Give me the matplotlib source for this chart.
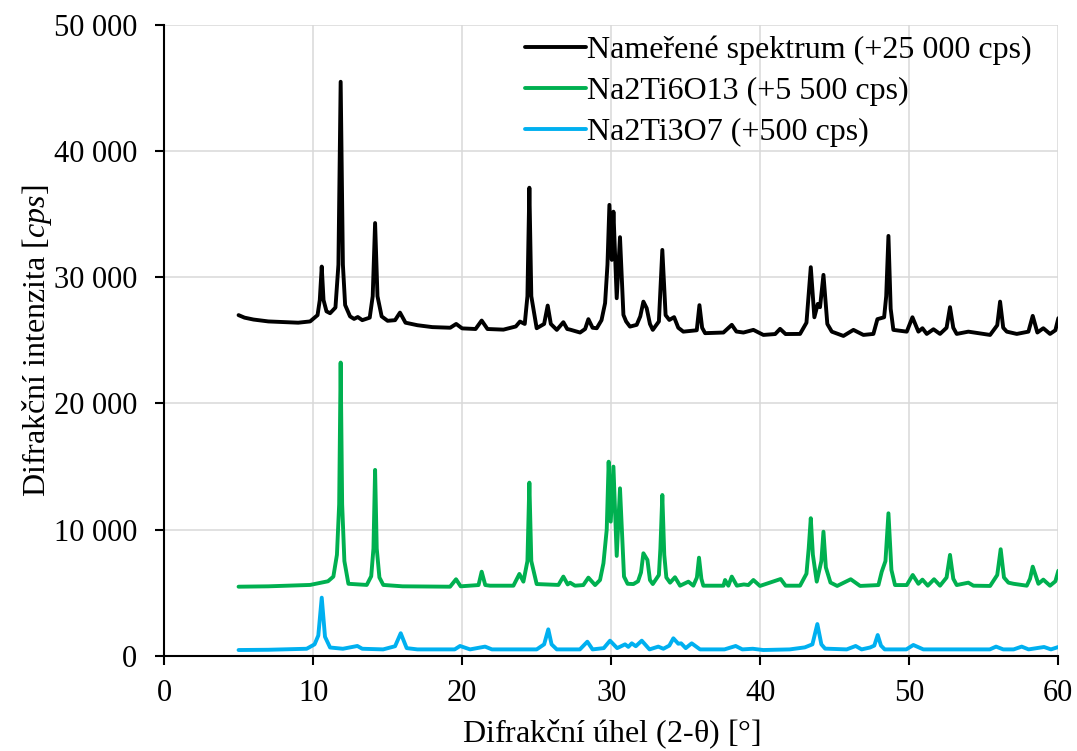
import matplotlib
matplotlib.use("Agg")
import matplotlib.pyplot as plt
from matplotlib.ticker import FuncFormatter, MultipleLocator

plt.rcParams['font.family'] = ['Liberation Serif', 'DejaVu Serif']
plt.rcParams['mathtext.fontset'] = 'custom'
plt.rcParams['mathtext.rm'] = 'Liberation Serif'
plt.rcParams['mathtext.it'] = 'Liberation Serif:italic'

meas_x = [5.0, 5.4, 6.0, 7.0, 8.0, 9.0, 9.8, 10.3, 10.45, 10.58, 10.7, 10.9, 11.14, 11.5, 11.7, 11.85,
          12.0, 12.15, 12.48, 12.75, 13.0, 13.3, 13.8, 14.0, 14.16, 14.32, 14.6, 15.0, 15.5, 15.83,
          16.2, 17.0, 18.0, 19.2, 19.6, 20.0, 20.9, 21.31, 21.7, 22.77, 23.6, 23.88, 24.2, 24.38,
          24.51, 24.64, 25.0, 25.5, 25.74, 25.95, 26.35, 26.79, 27.05, 27.24, 27.91, 28.25, 28.47,
          28.75, 29.03, 29.35, 29.59, 29.75, 29.88, 30.04, 30.15, 30.37, 30.59, 30.82, 31.0, 31.26,
          31.71, 31.95, 32.16, 32.38, 32.6, 32.79, 33.2, 33.43, 33.65, 33.9, 34.22, 34.5, 34.84,
          35.74, 35.92, 36.1, 36.3, 37.53, 38.09, 38.4, 38.87, 39.54, 40.21, 41.0, 41.33, 41.7,
          42.67, 43.1, 43.39, 43.63, 43.86, 44.01, 44.24, 44.5, 44.8, 45.58, 46.25, 46.92, 47.59,
          47.86, 48.31, 48.45, 48.6, 48.75, 48.93, 49.83, 50.21, 50.61, 50.88, 51.17, 51.62, 52.06,
          52.5, 52.73, 52.95, 53.18, 53.96, 55.42, 55.9, 56.09, 56.3, 56.54, 57.21, 57.99, 58.28,
          58.59, 58.99, 59.44, 59.8, 60.0]
meas_y = [27.0, 26.8, 26.65, 26.5, 26.45, 26.4, 26.5, 27.0, 28.2, 30.85, 28.2, 27.3, 27.15, 27.6, 31.0, 45.5,
          31.0, 27.8, 26.9, 26.7, 26.85, 26.6, 26.8, 28.5, 34.3, 28.5, 26.9, 26.55, 26.6, 27.2,
          26.4, 26.2, 26.05, 26.0, 26.3, 25.95, 25.9, 26.57, 25.9, 25.85, 26.1, 26.49, 26.3, 28.5,
          37.1, 28.5, 25.96, 26.3, 27.76, 26.3, 25.83, 26.44, 25.9, 25.85, 25.62, 25.9, 26.68,
          26.0, 25.96, 26.6, 27.95, 31.0, 35.74, 31.38, 35.2, 28.34, 33.18, 27.02, 26.5, 26.09,
          26.23, 26.9, 28.07, 27.55, 26.3, 25.83, 26.5, 32.17, 27.0, 26.62, 26.84, 26.0, 25.69,
          25.8, 27.79, 26.0, 25.57, 25.62, 26.23, 25.7, 25.62, 25.83, 25.43, 25.5, 25.91, 25.5,
          25.51, 26.4, 30.8, 26.83, 27.89, 27.63, 30.19, 26.3, 25.69, 25.35, 25.83, 25.43, 25.51,
          26.68, 26.83, 28.5, 33.28, 27.5, 25.83, 25.69, 26.83, 25.69, 25.96, 25.51, 25.88, 25.51,
          26.0, 27.63, 26.0, 25.51, 25.69, 25.43, 26.2, 28.07, 26.0, 25.69, 25.51, 25.69, 26.94,
          25.62, 25.96, 25.51, 25.8, 26.76]

# Na2Ti6O13 reference (+5 500 cps)
nto_x = [5.0, 7.0, 9.8, 11.0, 11.36, 11.6, 11.75, 11.85, 11.95, 12.1, 12.37, 13.6, 13.9, 14.05, 14.16,
         14.27, 14.45, 14.71, 16.0, 19.19, 19.59, 19.9, 20.53, 21.1, 21.31, 21.55, 21.87, 23.44,
         23.84, 24.11, 24.38, 24.51, 24.64, 25.0, 26.46, 26.79, 27.08, 27.24, 27.57, 28.13, 28.47,
         28.92, 29.25, 29.48, 29.7, 29.83, 29.97, 30.15, 30.37, 30.59, 30.86, 31.1, 31.49, 31.8,
         32.0, 32.16, 32.43, 32.6, 32.79, 33.2, 33.3, 33.43, 33.56, 33.7, 33.95, 34.28, 34.62,
         35.18, 35.51, 35.75, 35.89, 36.05, 36.18, 37.53, 37.64, 37.86, 38.09, 38.43, 38.9, 39.2,
         39.54, 39.98, 41.37, 41.7, 42.67, 43.1, 43.25, 43.39, 43.53, 43.79, 44.1, 44.24, 44.4,
         44.71, 45.16, 46.07, 46.7, 47.93, 48.15, 48.4, 48.6, 48.8, 49.04, 49.83, 50.23, 50.61,
         50.88, 51.24, 51.66, 52.06, 52.5, 52.73, 52.95, 53.18, 53.96, 54.3, 55.42, 55.9, 56.13,
         56.35, 56.65, 57.0, 57.88, 58.1, 58.28, 58.66, 58.99, 59.44, 59.8, 60.0]
nto_y = [5.47, 5.5, 5.61, 5.9, 6.27, 8.0, 12.0, 23.24, 12.0, 7.5, 5.7, 5.61, 6.3, 8.5, 14.73,
         8.5, 6.2, 5.61, 5.5, 5.47, 6.06, 5.5, 5.55, 5.6, 6.66, 5.6, 5.55, 5.55,
         6.48, 5.87, 7.5, 13.72, 7.5, 5.68, 5.61, 6.27, 5.65, 5.79, 5.55, 5.6, 6.19,
         5.6, 6.0, 7.33, 10.0, 15.38, 10.63, 14.99, 7.91, 13.27, 6.27, 5.7, 5.68, 5.9,
         6.6, 8.12, 7.59, 6.0, 5.68, 6.4, 8.5, 12.74, 8.0, 6.2, 5.79, 6.22, 5.55,
         5.87, 5.55, 6.2, 7.77, 6.1, 5.55, 5.55, 6.0, 5.55, 6.27, 5.55, 5.65, 5.6,
         6.0, 5.53, 6.08, 5.55, 5.55, 6.5, 8.5, 10.9, 8.0, 5.87, 7.5, 9.83, 7.0,
         5.8, 5.53, 6.06, 5.53, 5.6, 6.66, 7.5, 11.29, 6.8, 5.6, 5.6, 6.4, 5.7,
         6.03, 5.55, 6.06, 5.55, 6.2, 7.99, 6.1, 5.6, 5.79, 5.55, 5.53, 6.4, 8.44,
         6.2, 5.79, 5.7, 5.55, 6.1, 7.06, 5.7, 6.03, 5.55, 5.9, 6.74]

# Na2Ti3O7 reference (+500 cps)
nt3_x = [5.0, 7.0, 9.57, 10.1, 10.35, 10.58, 10.8, 11.14, 12.0, 12.97, 13.3, 14.7, 15.5, 15.88, 16.28,
         17.0, 19.5, 19.86, 20.53, 21.54, 22.0, 25.0, 25.5, 25.78, 26.0, 26.35, 27.9, 28.4, 28.75,
         29.5, 29.92, 30.4, 30.93, 31.15, 31.38, 31.65, 32.05, 32.57, 33.16, 33.5, 33.9, 34.17,
         34.5, 34.69, 35.0, 35.4, 35.96, 37.6, 38.35, 38.8, 39.5, 40.2, 41.98, 42.99, 43.5, 43.83,
         44.1, 44.35, 45.8, 46.4, 46.8, 47.37, 47.65, 47.88, 48.1, 48.35, 49.8, 50.27, 50.94, 55.4,
         55.82, 56.3, 57.0, 57.54, 58.0, 59.04, 59.5, 60.0]
nt3_y = [0.45, 0.47, 0.55, 0.9, 1.6, 4.6, 1.5, 0.65, 0.55, 0.77, 0.55, 0.5, 0.75, 1.78, 0.6,
         0.5, 0.5, 0.77, 0.5, 0.72, 0.5, 0.5, 0.9, 2.09, 0.9, 0.5, 0.5, 1.11, 0.5,
         0.6, 1.19, 0.6, 0.9, 0.7, 0.98, 0.75, 1.19, 0.5, 0.72, 0.55, 0.8, 1.38,
         0.95, 0.98, 0.6, 0.98, 0.5, 0.5, 0.77, 0.5, 0.55, 0.45, 0.5, 0.66, 0.9, 2.51,
         0.9, 0.56, 0.5, 0.77, 0.5, 0.65, 0.8, 1.64, 0.8, 0.5, 0.5, 0.85, 0.5, 0.5,
         0.72, 0.5, 0.5, 0.72, 0.5, 0.69, 0.5, 0.69]

labels = ['Nameřené spektrum (+25 000 cps)', 'Na2Ti6O13 (+5 500 cps)', 'Na2Ti3O7 (+500 cps)']
colors = ['#000000', '#00B050', '#00B0F0']

fig = plt.figure(figsize=(10.77, 7.51), dpi=100)
ax = fig.add_axes([0.1523, 0.1269, 0.8304, 0.8398])

for xs, ys, lab, col in zip([meas_x, nto_x, nt3_x], [meas_y, nto_y, nt3_y], labels, colors):
    ax.plot(xs, [v * 1000 for v in ys], color=col, lw=2.8, label=lab,
            solid_joinstyle='round', solid_capstyle='round')

ax.set_xlim(0, 60)
ax.set_ylim(0, 50000)
ax.xaxis.set_major_locator(MultipleLocator(10))
ax.yaxis.set_major_locator(MultipleLocator(10000))
ax.yaxis.set_major_formatter(FuncFormatter(lambda v, p: f"{int(v):,}".replace(',', ' ')))
ax.grid(True, color='#d9d9d9', lw=1.1)
ax.set_axisbelow(True)
for s in ['top', 'right']:
    ax.spines[s].set_visible(False)
for s in ['left', 'bottom']:
    ax.spines[s].set_linewidth(1.5)
ax.tick_params(direction='out', length=6.5, width=1.5, labelsize=22)
ax.tick_params(axis='x', pad=10)
ax.tick_params(axis='y', pad=13)

ax.set_xlabel(r"Difrakční úhel (2-θ) $\mathit{[°]}$", fontsize=23, labelpad=7)
ax.set_ylabel(r"Difrakční intenzita $\mathit{[cps]}$", fontsize=23, labelpad=0)

ax.legend(loc='upper right', bbox_to_anchor=(0.992, 1.013), frameon=False, fontsize=23,
          handlelength=1.9, handletextpad=0.05, labelspacing=0.36, borderaxespad=0.2)

fig.savefig('out.png', dpi=100)
